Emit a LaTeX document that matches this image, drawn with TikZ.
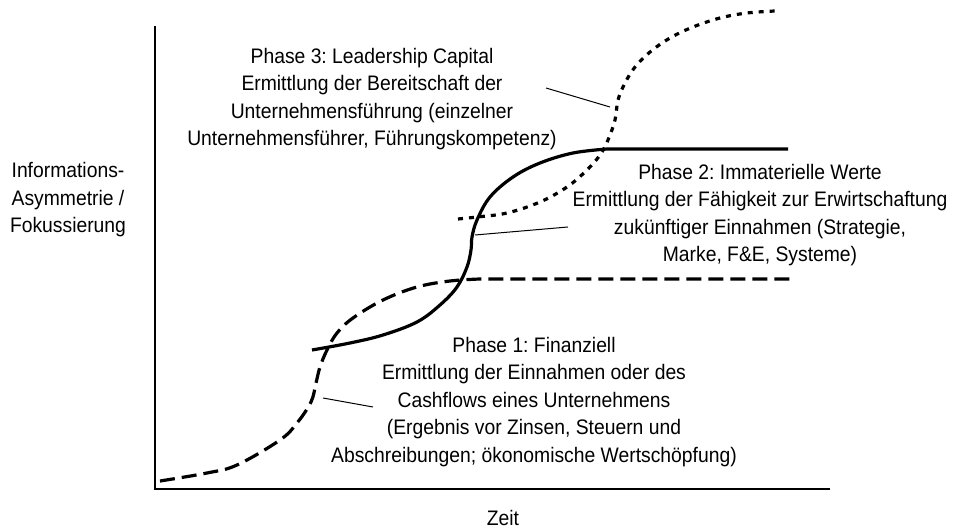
\documentclass[tikz,border=0pt]{standalone}
\usepackage{fontspec}
\setmainfont[FakeStretch=0.92]{Liberation Sans}
\frenchspacing

\begin{document}
\begin{tikzpicture}[x=0.5pt, y=-0.5pt,
	phasetext/.style={align=center, inner sep=0pt, font=\fontsize{10.5}{13.75}\selectfont},
	axis/.style={line width=0.8pt},
	finanziell/.style={line width=1.6pt, dash pattern=on 7.5pt off 3.5pt},
	immateriell/.style={line width=1.6pt},
	leadership/.style={line width=1.6pt, dash pattern=on 2.5pt off 3pt},
	leader/.style={line width=0.5pt}]
	\useasboundingbox (0,0) rectangle (976,529);

	\coordinate (ytop) at (155,26);
	\coordinate (origin) at (155,489);
	\coordinate (xend) at (830,489);
	\draw[axis] (ytop) -- (origin) -- (xend);

	\node[phasetext] (ylabel) at (68,200) {Informations-\\Asymmetrie /\\Fokussierung};
	\node[phasetext] (xlabel) at (503,518) {Zeit};

	\node[phasetext] (phase3) at (372,99) {Phase 3: Leadership Capital\\Ermittlung der Bereitschaft der\\Unternehmensführung (einzelner\\Unternehmensführer, Führungskompetenz)};
	\node[phasetext] (phase2) at (760,215) {Phase 2: Immaterielle Werte\\Ermittlung der Fähigkeit zur Erwirtschaftung\\zukünftiger Einnahmen (Strategie,\\Marke, F\&E, Systeme)};
	\node[phasetext] (phase1) at (534,402) {Phase 1: Finanziell\\Ermittlung der Einnahmen oder des\\Cashflows eines Unternehmens\\(Ergebnis vor Zinsen, Steuern und\\Abschreibungen; ökonomische Wertschöpfung)};

	\draw[finanziell] plot[smooth, tension=0.6] coordinates {(160,481) (207,473) (237,465) (280,440) (297,423) (311,402) (316,383) (320,367) (327,350) (337,333) (353,318) (383,300) (417,287) (450,281) (480,279)} -- (795,279);
	\draw[immateriell] plot[smooth, tension=0.6] coordinates {(312,350) (350,343) (383,335) (417,322) (440,305) (457,287) (467,267) (471,250) (472,237) (477,220) (490,197) (513,177) (540,163) (573,153) (607,149)} -- (788,149);
	\draw[leadership] plot[smooth, tension=0.6] coordinates {(458,219) (477,217) (507,213) (540,202) (567,187) (587,170) (600,155) (608,140) (615,120) (618,100) (625,83) (635,67) (650,52) (670,38) (693,27) (720,18) (747,13) (775,11)};

	\coordinate (c3) at (610,107);
	\coordinate (t3) at (546,88);
	\coordinate (c2) at (475,235);
	\coordinate (t2) at (568,227);
	\coordinate (c1) at (323,398);
	\coordinate (t1) at (373,407);
	\draw[leader] (t3) -- (c3);
	\draw[leader] (c2) -- (t2);
	\draw[leader] (c1) -- (t1);
\end{tikzpicture}
\end{document}
